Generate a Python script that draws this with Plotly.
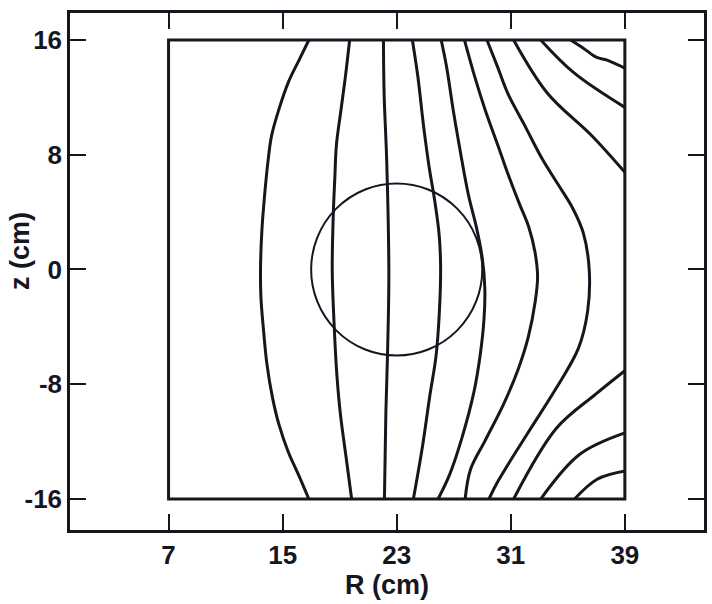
import plotly.graph_objects as go

# ---- data (R in cm, z in cm) ----
box_R = [7, 39]
box_z = [-16, 16]
circle_center = (23, 0)
circle_radius = 6

line1_R = [16.84, 16.1, 15.42, 14.75, 14.22, 13.97, 13.73, 13.55, 13.45, 13.48, 13.67, 13.9, 14.29, 14.74, 15.39, 16.11, 16.84]
line1_z = [16, 14.49, 13.1, 11.2, 9.3, 7.5, 5.1, 2.8, 0, -1.96, -4.33, -6.6, -8.93, -10.8, -12.7, -14.3, -16]

line2_R = [19.7, 19.39, 19.08, 18.77, 18.66, 18.56, 18.48, 18.61, 18.8, 19.05, 19.45, 19.84]
line2_z = [16, 13.34, 11.03, 8.66, 6.35, 4.04, 0, -3.8, -7.27, -10.07, -13.07, -16]

line3_R = [22.07, 22.12, 22.3, 22.45, 22.42, 22.34, 22.24, 22.14]
line3_z = [16, 12.18, 7.57, 0, -3.05, -6.5, -10.0, -16]

line4_R = [24.1, 24.49, 24.9, 25.28, 25.67, 25.98, 26.08, 25.99, 25.76, 25.32, 24.81, 24.17]
line4_z = [16, 13.4, 9.87, 7.11, 4.77, 2.4, 0.13, -3.01, -6.02, -8.82, -12.32, -16]

line5_R = [26.12, 26.5, 26.97, 27.5, 28.03, 28.6, 29.0, 29.18, 29.12, 28.85, 28.44, 27.58, 26.71, 25.9]
line5_z = [16, 14.12, 11.07, 8.0, 5.2, 2.9, 0.8, -1.3, -3.5, -6.0, -8.43, -11.72, -14.3, -16]

line6_R = [27.75, 28.47, 29.2, 30.13, 30.87, 31.6, 32.25, 32.7, 32.88, 32.72, 32.23, 31.5, 30.49, 29.2, 28.17, 27.8]
line6_z = [16, 13.44, 11.14, 8.56, 6.48, 4.59, 3.0, 1.2, -0.5, -2.2, -4.69, -7.0, -9.4, -11.93, -13.96, -16]

line7_R = [29.33, 30.06, 30.79, 32.01, 33.22, 34.4, 35.37, 36.09, 36.5, 36.39, 35.74, 34.17, 32.13, 30.08, 29.47]
line7_z = [16, 14.16, 12.28, 9.98, 7.68, 5.8, 4.22, 2.53, 0.0, -2.9, -5.5, -8.3, -11.5, -14.8, -16]

line8_R = [31.2, 33.57, 36.7, 39]
line8_z = [16, 12.29, 9.31, 6.78]
line9_R = [33.1, 35.44, 39]
line9_z = [16, 13.7, 11.3]
line10_R = [35.2, 36.11, 37.03, 37.75, 39]
line10_z = [16, 15.41, 14.78, 14.6, 14.04]

line8b_R = [31.2, 34.2, 36.96, 39]
line8b_z = [-16, -11.07, -8.69, -7.06]
line9b_R = [33.1, 35.84, 39]
line9b_z = [-16, -12.88, -11.39]
line10b_R = [35.47, 37.06, 39]
line10b_z = [-16, -14.62, -14.05]

x_ticks = [7, 15, 23, 31, 39]
y_ticks = [-16, -8, 0, 8, 16]
x_title = "R (cm)"
y_title = "z (cm)"

INK = "#15171f"
FONT = "Liberation Sans Narrow, Liberation Sans, Arial, sans-serif"
TITLE_FONT = "Liberation Sans, Arial, sans-serif"

lines = [
    (line1_R, line1_z), (line2_R, line2_z), (line3_R, line3_z), (line4_R, line4_z),
    (line5_R, line5_z), (line6_R, line6_z), (line7_R, line7_z),
    (line8_R, line8_z), (line9_R, line9_z), (line10_R, line10_z),
    (line8b_R, line8b_z), (line9b_R, line9b_z), (line10b_R, line10b_z),
]

fig = go.Figure()
for R, z in lines:
    fig.add_trace(go.Scatter(
        x=R, y=z, mode="lines",
        line=dict(color=INK, width=3, shape="spline", smoothing=1.0),
        showlegend=False, hoverinfo="skip",
    ))

# inner box
fig.add_shape(type="rect", xref="x", yref="y",
              x0=box_R[0], x1=box_R[1], y0=box_z[0], y1=box_z[1],
              line=dict(color=INK, width=3))
# circle
cx, cz = circle_center
fig.add_shape(type="circle", xref="x", yref="y",
              x0=cx - circle_radius, x1=cx + circle_radius,
              y0=cz - circle_radius, y1=cz + circle_radius,
              line=dict(color=INK, width=2))

axis_common = dict(
    showgrid=False, zeroline=False,
    showline=True, linecolor=INK, linewidth=2.5,
    mirror="ticks", ticks="inside", ticklen=16, tickwidth=2, tickcolor=INK,
    tickfont=dict(family=FONT, size=26, color=INK, weight="bold"),
)

fig.update_layout(
    width=712, height=604,
    margin=dict(l=70, r=5, t=13, b=74),
    paper_bgcolor="white", plot_bgcolor="white",
    xaxis=dict(range=[0.09, 44.55], tickvals=x_ticks, ticktext=[str(v) for v in x_ticks],
               ticklabelstandoff=0,
               title=dict(text=x_title, font=dict(family=TITLE_FONT, size=27, color=INK, weight="bold"),
                          standoff=4),
               **axis_common),
    yaxis=dict(range=[-18.16, 17.88], tickvals=y_ticks, ticktext=[str(v) for v in y_ticks],
               ticklabelstandoff=0,
               **axis_common),
    annotations=[dict(
        text=y_title, textangle=-90, xref="paper", yref="paper",
        x=-0.0785, y=0.54, xanchor="center", yanchor="middle", showarrow=False,
        font=dict(family=TITLE_FONT, size=27, color=INK, weight="bold"),
    )],
)

fig.write_html("out.html")
